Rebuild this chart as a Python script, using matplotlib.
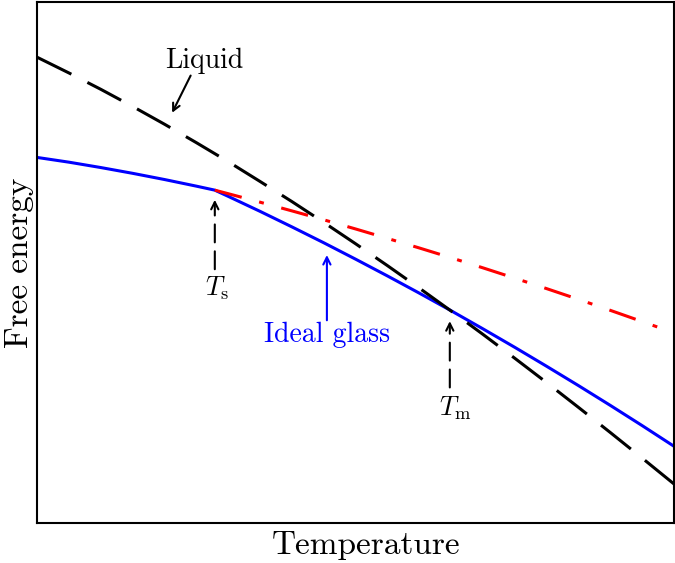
import matplotlib
matplotlib.use("Agg")
import matplotlib.pyplot as plt

plt.rcParams['font.family'] = ['cmr10', 'DejaVu Serif']
plt.rcParams['mathtext.fontset'] = 'cm'
plt.rcParams['axes.unicode_minus'] = False

# temperature grid (arbitrary units, 0..100)
T = [0, 5, 10, 15, 20, 25, 30, 35, 40, 45, 50, 55, 60, 65, 70, 75, 80, 85, 90, 95, 100]
G_liquid = [89.44, 86.42, 83.28, 79.99, 76.58, 73.04, 69.39, 65.59, 61.73, 57.73, 53.63,
            49.43, 45.12, 40.72, 36.23, 31.64, 26.97, 22.21, 17.38, 12.47, 7.50]

# ideal glass (kink at Ts)
T_glass = [0, 5, 10, 15, 20, 25, 27.9, 30, 35, 40, 45, 50, 55, 60, 65, 70, 75, 80, 85, 90, 95, 100]
G_glass = [70.2, 69.29, 68.26, 67.15, 65.96, 64.69, 63.92, 62.73, 59.85, 56.87, 53.82, 50.67,
           47.45, 44.15, 40.77, 37.29, 33.74, 30.10, 26.39, 22.59, 18.71, 14.74]

# supercooled branch
T_super = [27.9, 30, 35, 40, 45, 50, 55, 60, 65, 70, 75, 80, 85, 90, 95, 97.5]
G_super = [63.92, 63.24, 61.61, 59.94, 58.23, 56.47, 54.66, 52.82, 50.94, 49.00, 47.02,
           45.01, 42.95, 40.84, 38.69, 37.60]

Ts = 27.9
Tm = 64.8

fig = plt.figure(figsize=(6.75, 5.63), dpi=100)
ax = fig.add_axes([0.055, 0.071, 0.9435, 0.925])

ax.plot(T_glass, G_glass, color='blue', lw=2.2)
ax.plot(T_super, G_super, color='red', lw=2.2, dashes=(9.1, 5.9, 1.6, 5.9))
ax.plot(T, G_liquid, color='black', lw=2.2, dashes=(12.5, 5.9))

# annotations
ax.text(26.2, 88.7, 'Liquid', fontsize=20, ha='center', va='center')
ax.annotate('', xy=(21.0, 78.3), xytext=(24.3, 86.4),
            arrowprops=dict(arrowstyle='->', color='black', lw=1.5, mutation_scale=13))

ax.annotate('', xy=(Ts, 62.6), xytext=(Ts, 48.2),
            arrowprops=dict(arrowstyle='->', color='black', lw=1.5, mutation_scale=13,
                            linestyle=(0, (8.6, 4.3))))
ax.text(Ts + 0.3, 45.0, r'$T_\mathrm{s}$', fontsize=19, ha='center', va='center')

ax.annotate('', xy=(Tm, 39.3), xytext=(Tm, 25.5),
            arrowprops=dict(arrowstyle='->', color='black', lw=1.5, mutation_scale=13,
                            linestyle=(0, (8.6, 4.3))))
ax.text(Tm + 0.8, 22.0, r'$T_\mathrm{m}$', fontsize=19, ha='center', va='center')

ax.annotate('', xy=(45.5, 52.0), xytext=(45.5, 38.4),
            arrowprops=dict(arrowstyle='->', color='blue', lw=1.5, mutation_scale=13))
ax.text(45.5, 36.1, 'Ideal glass', fontsize=20, color='blue', ha='center', va='center')

ax.set_xlim(0, 100)
ax.set_ylim(0, 100)
ax.set_xticks([])
ax.set_yticks([])
for s in ax.spines.values():
    s.set_linewidth(1.5)

ax.set_xlabel('Temperature', fontsize=24, labelpad=6, x=0.516)
ax.set_ylabel('Free energy', fontsize=24, labelpad=2)

fig.savefig('out.png', dpi=100)
